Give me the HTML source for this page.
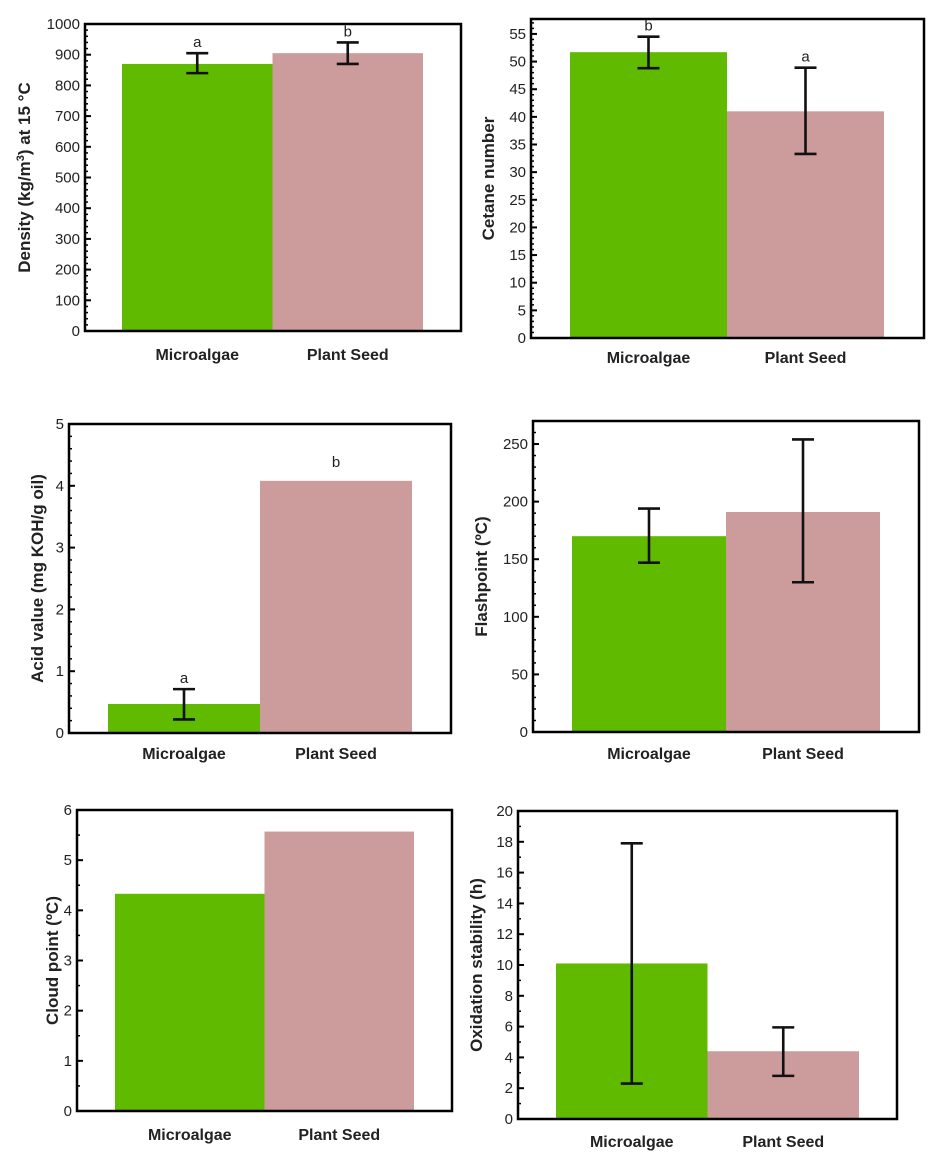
<!DOCTYPE html>
<html><head><meta charset="utf-8"><style>
html,body{margin:0;padding:0;background:#fff;}
svg{display:block;font-family:"Liberation Sans",Arial,sans-serif;}
</style></head><body>
<svg id="fig" width="937" height="1162" viewBox="0 0 937 1162"></svg>
<script>
const categories = ["Microalgae","Plant Seed"];
const densityValues = [870, 905];
const densityLow = [840, 870];
const densityHigh = [905, 940];
const densityLetters = ["a","b"];
const densityTicks = [0,100,200,300,400,500,600,700,800,900,1000];
const cetaneValues = [51.7, 41];
const cetaneLow = [48.8, 33.3];
const cetaneHigh = [54.5, 48.9];
const cetaneLetters = ["b","a"];
const cetaneTicks = [0,5,10,15,20,25,30,35,40,45,50,55];
const acidValues = [0.47, 4.08];
const acidLow = [0.22, null];
const acidHigh = [0.71, null];
const acidLetters = ["a","b"];
const acidTicks = [0,1,2,3,4,5];
const flashValues = [170, 191];
const flashLow = [147, 130];
const flashHigh = [194, 254];
const flashTicks = [0,50,100,150,200,250];
const cloudValues = [4.33, 5.57];
const cloudTicks = [0,1,2,3,4,5,6];
const oxValues = [10.1, 4.4];
const oxLow = [2.3, 2.8];
const oxHigh = [17.9, 5.95];
const oxTicks = [0,2,4,6,8,10,12,14,16,18,20];

const NS = "http://www.w3.org/2000/svg";
const svg = document.getElementById("fig");
function mk(tag, attrs, parent, text){
  const e = document.createElementNS(NS, tag);
  for (const k in attrs) e.setAttribute(k, attrs[k]);
  if (text !== undefined) e.textContent = text;
  (parent||svg).appendChild(e);
  return e;
}
function panel(p){
  const g = mk("g", {});
  
  
  const y = v => p.bottom - (v - 0) / p.ymax * (p.bottom - p.top);
  for (let i = 0; i < p.values.length; i++) {
    const x0 = p.barStart + i * p.barW;
    const r = mk("rect", {x:x0, y:y(p.values[i]), width:p.barW, height:p.bottom - y(p.values[i]), fill: i===0 ? "#5fba00" : "#cc9b9b"}, g);
    
    
    const cx = x0 + p.barW/2;
    if (p.low && p.low[i] != null) {
      const eb = mk("g", {stroke:"#111", "stroke-width":2.6}, g);
      
      
      mk("line", {x1:cx, x2:cx, y1:y(p.low[i]), y2:y(p.high[i])}, eb);
      mk("line", {x1:cx-11, x2:cx+11, y1:y(p.low[i]), y2:y(p.low[i])}, eb);
      mk("line", {x1:cx-11, x2:cx+11, y1:y(p.high[i]), y2:y(p.high[i])}, eb);
    }
    if (p.letters) {
      const top = (p.high && p.high[i] != null) ? p.high[i] : p.values[i];
      const t = mk("text", {x:cx, y:y(top) - (p.high && p.high[i]!=null ? 6 : 14), "text-anchor":"middle", "font-size":15, fill:"#222"}, g, p.letters[i]);
      
      
    }
    const cl = mk("text", {x:cx, y:p.catY, "text-anchor":"middle", "font-size":16, "font-weight":"bold", fill:"#222"}, g, categories[i]);
    
    
  }
  const fr = mk("rect", {x:p.left, y:p.top, width:p.right-p.left, height:p.bottom-p.top, fill:"none", stroke:"#000", "stroke-width":2.5}, g);
  
  
  for (let v = 0; v <= p.ymax + 1e-9; v += p.minor) {
    mk("line", {x1:p.left, x2:p.left+3, y1:y(v), y2:y(v), stroke:"#000", "stroke-width":1.5}, g);
  }
  for (const t of p.ticks) {
    mk("line", {x1:p.left, x2:p.left+6, y1:y(t), y2:y(t), stroke:"#000", "stroke-width":2}, g);
    const tl = mk("text", {x:p.left-5, y:y(t)+5, "text-anchor":"end", "font-size":15, fill:"#222"}, g, String(t));
    
    
  }
  const ty = (p.top + p.bottom)/2;
  const at = mk("text", {x:p.titleX, y:ty, "text-anchor":"middle", "font-size":17, "font-weight":"bold", fill:"#222", transform:`rotate(-90 ${p.titleX} ${ty})`}, g);
  
  
  at.innerHTML = p.title;
}
panel({name:"density-chart", left:85, right:461, top:24, bottom:331, ymax:1000, minor:20, ticks:densityTicks, barStart:122, barW:150.5,
  values:densityValues, low:densityLow, high:densityHigh, letters:densityLetters, catY:360, titleX:30,
  title:'Density (kg/m<tspan dy="-6" font-size="11">3</tspan><tspan dy="6">) at 15 °C</tspan>'});
panel({name:"cetane-chart", left:531, right:924, top:19, bottom:338, ymax:57.7, minor:1, ticks:cetaneTicks, barStart:570, barW:157,
  values:cetaneValues, low:cetaneLow, high:cetaneHigh, letters:cetaneLetters, catY:363, titleX:494, title:'Cetane number'});
panel({name:"acid-value-chart", left:69, right:451, top:424, bottom:733, ymax:5, minor:0.2, ticks:acidTicks, barStart:108, barW:152,
  values:acidValues, low:acidLow, high:acidHigh, letters:acidLetters, catY:759, titleX:43, title:'Acid value (mg KOH/g oil)'});
panel({name:"flashpoint-chart", left:533, right:919, top:421, bottom:732, ymax:270, minor:10, ticks:flashTicks, barStart:572, barW:154,
  values:flashValues, low:flashLow, high:flashHigh, catY:759, titleX:487, title:'Flashpoint (ºC)'});
panel({name:"cloud-point-chart", left:77, right:452, top:810, bottom:1111, ymax:6, minor:0.5, ticks:cloudTicks, barStart:115, barW:149.5,
  values:cloudValues, catY:1140, titleX:58, title:'Cloud point (ºC)'});
panel({name:"oxidation-stability-chart", left:518, right:897, top:811, bottom:1119, ymax:20, minor:1, ticks:oxTicks, barStart:556, barW:151.5,
  values:oxValues, low:oxLow, high:oxHigh, catY:1147, titleX:482, title:'Oxidation stability (h)'});
</script>
</body></html>
